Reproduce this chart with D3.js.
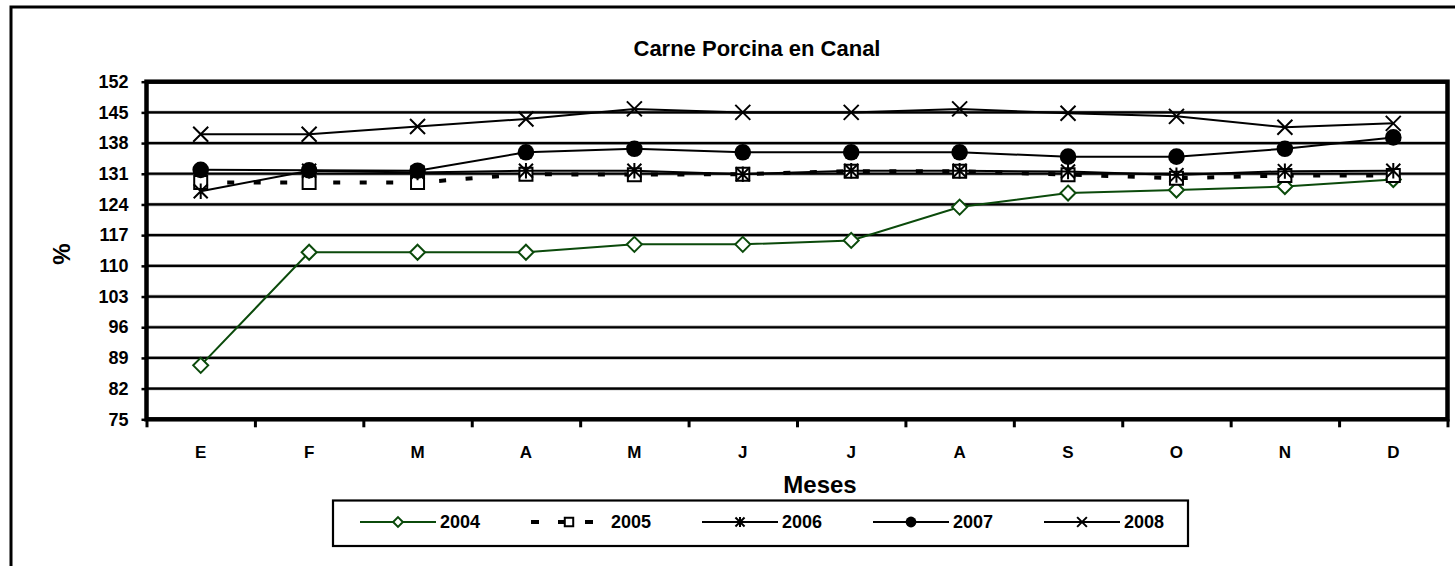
<!DOCTYPE html>
<html>
<head>
<meta charset="utf-8">
<script src="https://cdn.jsdelivr.net/npm/d3@7"></script>
<style>
  body { margin: 0; background: #fff; }
  svg { display: block; font-family: Arial, "Liberation Sans", sans-serif; font-weight: bold; }
</style>
</head>
<body>
<svg id="chart" width="1455" height="566"></svg>
<script>
// Months on the category axis (Spanish initials)
const months = ['E', 'F', 'M', 'A', 'M', 'J', 'J', 'A', 'S', 'O', 'N', 'D'];
const yTicks = [75, 82, 89, 96, 103, 110, 117, 124, 131, 138, 145, 152];
const years = ['2004', '2005', '2006', '2007', '2008'];

const values2004 = [87.3, 113.1, 113.1, 113.1, 114.9, 114.9, 115.8, 123.4, 126.6, 127.3, 128.1, 129.7];
const values2005 = [129.0, 129.0, 129.0, 130.9, 130.8, 130.9, 131.6, 131.6, 130.8, 130.0, 130.6, 130.6];
const values2006 = [127.0, 131.7, 131.3, 131.7, 131.7, 130.9, 131.7, 131.7, 131.5, 130.7, 131.6, 131.7];
const values2007 = [131.9, 131.8, 131.7, 135.9, 136.7, 135.9, 135.9, 135.9, 134.9, 134.9, 136.7, 139.3];
const values2008 = [140.0, 140.0, 141.8, 143.5, 145.8, 145.0, 145.0, 145.8, 144.8, 144.1, 141.6, 142.5];

const seriesList = [
  { name: years[0], values: values2004, color: '#0b4a0b', marker: 'diamond', dash: null, width: 2 },
  { name: years[1], values: values2005, color: '#000', marker: 'square', dash: '7,19.5', width: 4 },
  { name: years[2], values: values2006, color: '#000', marker: 'star', dash: null, width: 2 },
  { name: years[3], values: values2007, color: '#000', marker: 'circle', dash: null, width: 2 },
  { name: years[4], values: values2008, color: '#000', marker: 'x', dash: null, width: 2 }
];

const svg = d3.select('#chart');
const plot = { left: 146.5, right: 1447.5, top: 81.7, bottom: 419.3 };

// outer frame of the chart object (runs off the right and bottom edge)
svg.append('rect')
  .attr('x', 11).attr('y', 7)
  .attr('width', 1470).attr('height', 580)
  .attr('fill', 'none').attr('stroke', '#000').attr('stroke-width', 3);

const x = d3.scaleBand()
  .domain(d3.range(months.length))
  .range([plot.left, plot.right])
  .paddingInner(0).paddingOuter(0);
const xEdge = d3.scaleLinear().domain([0, months.length]).range([plot.left, plot.right]);
const y = d3.scaleLinear().domain([75, 152]).range([plot.bottom, plot.top]);
const cx = i => x(i) + x.bandwidth() / 2;

// Gridlines
svg.append('g')
  .selectAll('line')
  .data(yTicks.slice(1, -1))
  .join('line')
  .attr('x1', plot.left).attr('x2', plot.right)
  .attr('y1', d => y(d)).attr('y2', d => y(d))
  .attr('stroke', '#9a9a9a').attr('stroke-width', 3.4);
svg.append('g')
  .selectAll('line')
  .data(yTicks.slice(1, -1))
  .join('line')
  .attr('x1', plot.left).attr('x2', plot.right)
  .attr('y1', d => y(d)).attr('y2', d => y(d))
  .attr('stroke', '#000').attr('stroke-width', 2.2);

// Y axis
const yAxis = svg.append('g')
  .attr('transform', `translate(${plot.left},0)`)
  .call(d3.axisLeft(y).tickValues(yTicks).tickSize(5).tickPadding(13));
yAxis.select('.domain').remove();
yAxis.selectAll('.tick line').attr('stroke', '#000').attr('stroke-width', 2.5);
yAxis.selectAll('.tick text')
  .attr('font-size', 18).attr('font-weight', 'bold')
  .attr('font-family', 'Arial, "Liberation Sans", sans-serif').attr('fill', '#000');

// X axis: tick marks between categories, labels at centres
const xTickAxis = svg.append('g')
  .attr('transform', `translate(0,${plot.bottom})`)
  .call(d3.axisBottom(xEdge).tickValues(d3.range(months.length + 1)).tickSize(8).tickFormat(''));
xTickAxis.select('.domain').remove();
xTickAxis.selectAll('.tick line').attr('stroke', '#000').attr('stroke-width', 3);

const xLabelAxis = svg.append('g')
  .attr('transform', `translate(0,${plot.bottom})`)
  .call(d3.axisBottom(x).tickSize(0).tickPadding(27).tickFormat(i => months[i]));
xLabelAxis.select('.domain').remove();
xLabelAxis.selectAll('.tick text')
  .attr('font-size', 17).attr('font-weight', 'bold')
  .attr('font-family', 'Arial, "Liberation Sans", sans-serif').attr('fill', '#000');

// Plot frame
svg.append('rect')
  .attr('x', plot.left).attr('y', plot.top)
  .attr('width', plot.right - plot.left).attr('height', plot.bottom - plot.top)
  .attr('fill', 'none').attr('stroke', '#000').attr('stroke-width', 4.5);

function markerPath(type, s) {
  if (type === 'diamond') return `M0,${-s}L${s},0L0,${s}L${-s},0Z`;
  if (type === 'square') return `M${-s},${-s}h${2 * s}v${2 * s}h${-2 * s}Z`;
  if (type === 'star') return `M${-s},${-s}L${s},${s}M${s},${-s}L${-s},${s}M0,${-s * 1.1}L0,${s * 1.1}`;
  if (type === 'x') return `M${-s},${-s}L${s},${s}M${s},${-s}L${-s},${s}`;
  return '';
}

function drawMarker(g, type, color, px, py, scale) {
  if (type === 'circle') {
    g.append('circle').attr('cx', px).attr('cy', py).attr('r', 8.3 * scale).attr('fill', color);
    return;
  }
  const size = { diamond: 7.5, square: 6.5, star: 7, x: 7.5 }[type] * scale;
  g.append('path')
    .attr('d', markerPath(type, size))
    .attr('transform', `translate(${px},${py})`)
    .attr('fill', type === 'diamond' || type === 'square' ? '#fff' : 'none')
    .attr('stroke', color)
    .attr('stroke-width', 2);
}

const line = d3.line().x((d, i) => cx(i)).y(d => y(d));

// Series, 2004 first so 2008 ends up on top
seriesList.forEach(s => {
  const g = svg.append('g');
  g.append('path')
    .attr('d', line(s.values))
    .attr('fill', 'none')
    .attr('stroke', s.color)
    .attr('stroke-width', s.width)
    .attr('stroke-dasharray', s.dash);
  s.values.forEach((v, i) => drawMarker(g, s.marker, s.color, cx(i), y(v), 1));
});

// Title and axis titles
svg.append('text')
  .attr('x', 757).attr('y', 55.5)
  .attr('text-anchor', 'middle')
  .attr('font-size', 22)
  .text('Carne Porcina en Canal');

svg.append('text')
  .attr('x', 820).attr('y', 493)
  .attr('text-anchor', 'middle')
  .attr('font-size', 24)
  .text('Meses');

svg.append('text')
  .attr('transform', 'translate(70,254) rotate(-90)')
  .attr('text-anchor', 'middle')
  .attr('font-size', 24)
  .text('%');

// Legend
const legend = svg.append('g');
legend.append('rect')
  .attr('x', 333).attr('y', 500.5)
  .attr('width', 855).attr('height', 45.5)
  .attr('fill', '#fff').attr('stroke', '#000').attr('stroke-width', 2.2);

seriesList.forEach((s, i) => {
  const x0 = 360 + i * 171;
  const ly = 522;
  legend.append('line')
    .attr('x1', x0).attr('x2', s.dash ? x0 + 66 : x0 + 76)
    .attr('y1', ly).attr('y2', ly)
    .attr('stroke', s.color)
    .attr('stroke-width', s.width)
    .attr('stroke-dasharray', s.dash ? '8,19' : null);
  drawMarker(legend, s.marker, s.color, x0 + 38, ly, 0.65);
  legend.append('text')
    .attr('x', x0 + 80).attr('y', ly)
    .attr('dy', '0.35em')
    .attr('font-size', 18)
    .text(s.name);
});
</script>
</body>
</html>
